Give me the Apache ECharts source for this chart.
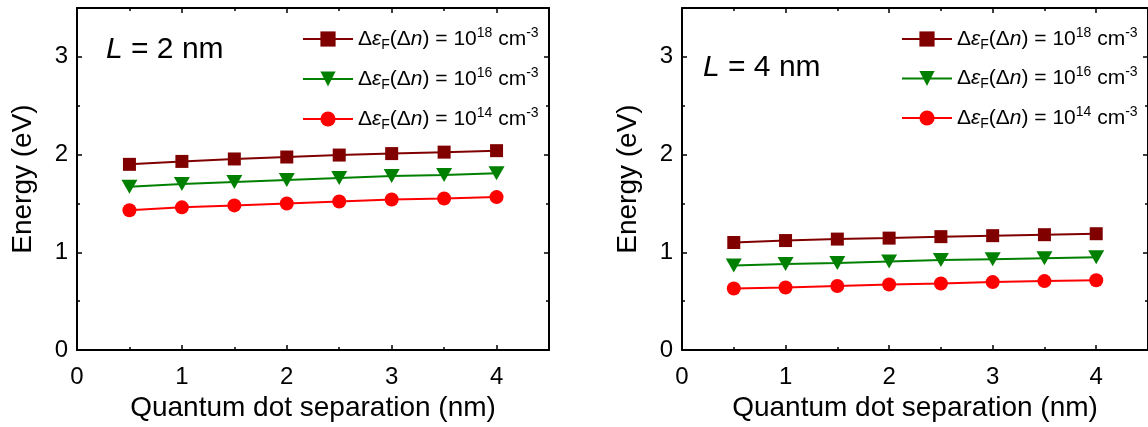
<!DOCTYPE html>
<html>
<head>
<meta charset="utf-8">
<script src="https://cdn.jsdelivr.net/npm/echarts@6/dist/echarts.min.js"></script>
<style>
html,body{margin:0;padding:0;background:#fff;}
#chart{width:1148px;height:427px;}
</style>
</head>
<body>
<div id="chart"></div>
<script>
// ---- data ----
const separation = [0.5, 1, 1.5, 2, 2.5, 3, 3.5, 4];
const L2_n18 = [1.90, 1.93, 1.955, 1.975, 1.995, 2.01, 2.025, 2.04];
const L2_n16 = [1.67, 1.70, 1.72, 1.74, 1.76, 1.78, 1.79, 1.81];
const L2_n14 = [1.43, 1.46, 1.48, 1.50, 1.52, 1.54, 1.55, 1.565];
const L4_n18 = [1.10, 1.12, 1.135, 1.145, 1.16, 1.17, 1.18, 1.19];
const L4_n16 = [0.865, 0.88, 0.89, 0.905, 0.92, 0.93, 0.94, 0.95];
const L4_n14 = [0.63, 0.64, 0.655, 0.67, 0.68, 0.695, 0.705, 0.714];
const seriesNames = ['n18', 'n16', 'n14'];
const exponents = {n18: '18', n16: '16', n14: '14'};
const panelLabels = ['2', '4'];
const xTitle = 'Quantum dot separation (nm)';
const yTitle = 'Energy (eV)';

const FONT = 'Liberation Sans, Arial, sans-serif';
const colors = {n18: '#800000', n16: '#008000', n14: '#ff0000'};
const symbols = {n18: 'rect', n16: 'path://M0,0 L10,0 L5,9 Z', n14: 'circle'};
const symSizes = {n18: 13, n16: [16, 14], n14: 14};

function pairs(ys) { return separation.map((x, i) => [x, ys[i]]); }

const chart = echarts.init(document.getElementById('chart'), null, {renderer: 'canvas'});

const grids = [
  {left: 77, top: 8, width: 472, height: 347},
  {left: 682, top: 8, width: 468, height: 347}
];

const intFmt = v => (Math.abs(v - Math.round(v)) < 1e-6 ? String(Math.round(v)) : '');

function xAx(gi, pos) {
  const main = pos === 'bottom';
  return {
    type: 'value', gridIndex: gi, position: pos, min: 0, max: 4.5, interval: 1,
    name: main ? xTitle : '', nameLocation: 'middle', nameGap: 44,
    nameTextStyle: {fontFamily: FONT, fontSize: 28, color: '#000'},
    axisLine: {show: true, onZero: false, lineStyle: {color: '#000', width: 2}},
    axisTick: {show: true, inside: true, length: 5, lineStyle: {color: '#000', width: 1.5}},
    minorTick: {show: true, splitNumber: 2, length: 3, lineStyle: {color: '#000', width: 1.5}},
    axisLabel: {show: main, margin: 15, fontFamily: FONT, fontSize: 24, color: '#000',
      showMaxLabel: false, formatter: intFmt},
    splitLine: {show: false}
  };
}
function yAx(gi, pos) {
  const main = pos === 'left';
  return {
    type: 'value', gridIndex: gi, position: pos, min: 0, max: 3.5, interval: 1,
    name: main ? yTitle : '', nameLocation: 'middle', nameGap: 40,
    nameTextStyle: {fontFamily: FONT, fontSize: 28, color: '#000'},
    axisLine: {show: true, onZero: false, lineStyle: {color: '#000', width: 2}},
    axisTick: {show: true, inside: true, length: 5, lineStyle: {color: '#000', width: 1.5}},
    minorTick: {show: true, splitNumber: 2, length: 3, lineStyle: {color: '#000', width: 1.5}},
    axisLabel: {show: main, margin: 9, fontFamily: FONT, fontSize: 24, color: '#000',
      showMaxLabel: false, formatter: intFmt},
    splitLine: {show: false}
  };
}

const panelData = [
  {n18: L2_n18, n16: L2_n16, n14: L2_n14},
  {n18: L4_n18, n16: L4_n16, n14: L4_n14}
];

const series = [];
panelData.forEach((pd, gi) => {
  seriesNames.forEach(nm => {
    series.push({
      name: nm, type: 'line', xAxisIndex: gi * 2, yAxisIndex: gi * 2,
      data: pairs(pd[nm]),
      symbol: symbols[nm], symbolSize: symSizes[nm], showAllSymbol: true,
      lineStyle: {color: colors[nm], width: 2},
      itemStyle: {color: colors[nm]},
      animation: false, z: 3
    });
  });
});

const rich = {
  a: {fontFamily: FONT, fontSize: 21, color: '#000', lineHeight: 26},
  i: {fontFamily: FONT, fontSize: 21, fontStyle: 'italic', color: '#000', lineHeight: 26},
  sup: {fontFamily: FONT, fontSize: 14, color: '#000', lineHeight: 14, verticalAlign: 'top'},
  sub: {fontFamily: FONT, fontSize: 14, color: '#000', lineHeight: 10, verticalAlign: 'bottom'}
};
function legendText(name) {
  return '{a|Δ}{i|ε}{sub|F}{a|(Δ}{i|n}{a|) = 10}{sup|' + exponents[name] + '}{a| cm}{sup|-3}';
}
function legendAt(left, top, gap) {
  return {
    orient: 'vertical', left: left, top: top, data: seriesNames,
    itemWidth: 50, itemHeight: 19, itemGap: gap,
    formatter: legendText, textStyle: {rich: rich},
    selectedMode: false
  };
}

const labelRich = {i: {fontFamily: FONT, fontSize: 30, fontStyle: 'italic', fill: '#000'},
                   a: {fontFamily: FONT, fontSize: 30, fill: '#000'}};

const option = {
  backgroundColor: '#fff',
  animation: false,
  grid: grids,
  xAxis: [xAx(0, 'bottom'), xAx(0, 'top'), xAx(1, 'bottom'), xAx(1, 'top')],
  yAxis: [yAx(0, 'left'), yAx(0, 'right'), yAx(1, 'left'), yAx(1, 'right')],
  legend: [legendAt(297, 21, 14), legendAt(896, 21, 13.5)],
  series: series,
  graphic: [
    {type: 'text', left: 106, top: 35, style: {text: '{i|L}{a| = ' + panelLabels[0] + ' nm}', rich: labelRich}},
    {type: 'text', left: 703, top: 53, style: {text: '{i|L}{a| = ' + panelLabels[1] + ' nm}', rich: labelRich}}
  ]
};
chart.setOption(option);
</script>
</body>
</html>
